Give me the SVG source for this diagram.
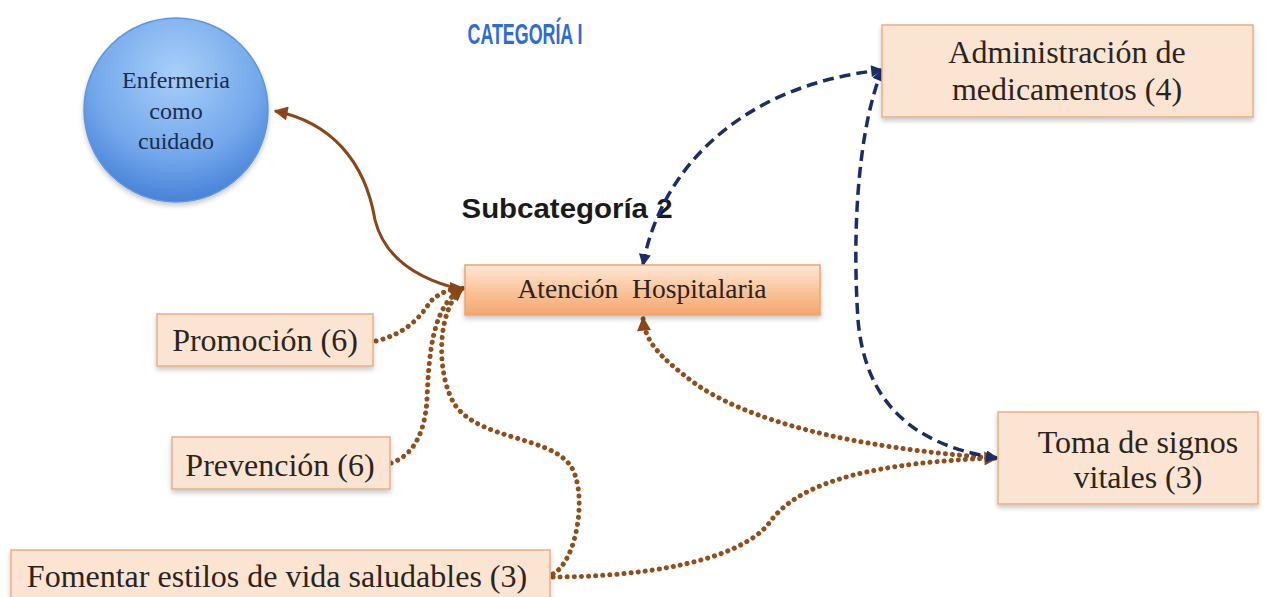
<svg xmlns="http://www.w3.org/2000/svg" width="1266" height="597" viewBox="0 0 1266 597">
<style>
.box{fill:#fce4d2;stroke:#e8b086;stroke-width:1.5}
.t{font-family:"Liberation Serif","Times New Roman",serif;fill:#2a2420;text-anchor:middle}
.big{font-size:32px}
.ct{fill:#1b2d4e}
.dot{fill:none;stroke:#8f4e1c;stroke-width:5;stroke-linecap:round;stroke-dasharray:0.1 7}
.dash{fill:none;stroke:#1c2d66;stroke-width:3.5;stroke-dasharray:11 6}
.solid{fill:none;stroke:#8a4618;stroke-width:3}
</style>
<defs>
<linearGradient id="gAt" x1="0" y1="0" x2="0" y2="1">
<stop offset="0" stop-color="#fde7d6"/>
<stop offset="0.5" stop-color="#fbc59c"/>
<stop offset="1" stop-color="#f3a66f"/>
</linearGradient>
<radialGradient id="gC" cx="0.5" cy="0.3" r="0.75">
<stop offset="0" stop-color="#a9cff8"/>
<stop offset="0.6" stop-color="#73a8ec"/>
<stop offset="1" stop-color="#3f7bd2"/>
</radialGradient>
<filter id="sh" x="-10%" y="-10%" width="120%" height="140%">
<feDropShadow dx="0" dy="3" stdDeviation="2.5" flood-color="#000" flood-opacity="0.22"/>
</filter>
<marker id="aB" viewBox="0 0 10 10" refX="9" refY="5" markerWidth="16" markerHeight="14" markerUnits="userSpaceOnUse" orient="auto-start-reverse">
<path d="M0,0 L10,5 L0,10 Z" fill="#8a4618"/>
</marker>
<marker id="aN" viewBox="0 0 10 10" refX="9" refY="5" markerWidth="14" markerHeight="12" markerUnits="userSpaceOnUse" orient="auto-start-reverse">
<path d="M0,0 L10,5 L0,10 Z" fill="#1c2d66"/>
</marker>
</defs>
<rect width="1266" height="597" fill="#ffffff"/>

<text x="525" y="44" font-family="Liberation Sans, Arial, sans-serif" font-weight="bold" font-size="29" fill="#2f6bd3" text-anchor="middle" textLength="115" lengthAdjust="spacingAndGlyphs">CATEGORÍA I</text>
<text x="567" y="218" font-family="Liberation Sans, Arial, sans-serif" font-weight="bold" font-size="28" fill="#1a1a1a" text-anchor="middle" textLength="211" lengthAdjust="spacingAndGlyphs">Subcategoría 2</text>

<g id="connectors">
<path class="solid" d="M463,290 C420,280 385,260 375,220 C365,160 330,122 275,111" marker-end="url(#aB)"/>
<path class="dot" d="M376,341 C405,334 420,318 430,302 C440,292 450,289 463,288" marker-end="url(#aB)"/>
<path class="dot" d="M391,463 C415,455 425,430 427,400 C429,350 433,305 463,288" marker-end="url(#aB)"/>
<path class="dot" d="M553,574 C578,560 588,490 570,465 C548,436 480,440 455,405 C436,375 436,310 463,288" marker-end="url(#aB)"/>
<path class="dot" d="M553,577 C640,577 740,562 770,522 C800,480 880,462 997,458" marker-end="url(#aB)"/>
<path class="dot" d="M995,458 C850,448 745,420 693,382 C660,357 645,342 643,318" marker-end="url(#aB)"/>
<path class="dash" d="M643,265 C660,170 740,85 882,70" marker-start="url(#aN)" marker-end="url(#aN)"/>
<path class="dash" d="M997,458 C910,445 865,400 858,320 C852,230 858,130 882,70" marker-start="url(#aN)" marker-end="url(#aN)"/>
</g>

<g id="enfermeria">
<circle cx="176" cy="110" r="92" fill="url(#gC)" stroke="#5f95de" stroke-width="1.5" filter="url(#sh)"/>
<text class="t ct" x="176" y="88" font-size="24" textLength="108" lengthAdjust="spacingAndGlyphs">Enfermeria</text>
<text class="t ct" x="176" y="119" font-size="24">como</text>
<text class="t ct" x="176" y="149" font-size="24">cuidado</text>
</g>

<g id="atencion">
<rect x="465" y="265" width="355" height="50" fill="url(#gAt)" stroke="#f0a46c" stroke-width="1.5" filter="url(#sh)"/>
<text class="t" x="642" y="298" font-size="27" textLength="249" lengthAdjust="spacingAndGlyphs" xml:space="preserve">Atención  Hospitalaria</text>
</g>

<g id="administracion">
<rect class="box" x="882" y="25" width="371" height="92" filter="url(#sh)"/>
<text class="t big" x="1067" y="63">Administración de</text>
<text class="t big" x="1067" y="100">medicamentos (4)</text>
</g>

<g id="toma">
<rect class="box" x="998" y="412" width="260" height="92" filter="url(#sh)"/>
<text class="t big" x="1138" y="453">Toma de signos</text>
<text class="t big" x="1138" y="488">vitales (3)</text>
</g>

<g id="promocion">
<rect class="box" x="157" y="314" width="216" height="52" filter="url(#sh)"/>
<text class="t big" x="265" y="351">Promoción (6)</text>
</g>

<g id="prevencion">
<rect class="box" x="172" y="437" width="218" height="52" filter="url(#sh)"/>
<text class="t big" x="280" y="476">Prevención (6)</text>
</g>

<g id="fomentar">
<rect class="box" x="11" y="550" width="539" height="60" filter="url(#sh)"/>
<text class="t big" x="277" y="587">Fomentar estilos de vida saludables (3)</text>
</g>
</svg>
